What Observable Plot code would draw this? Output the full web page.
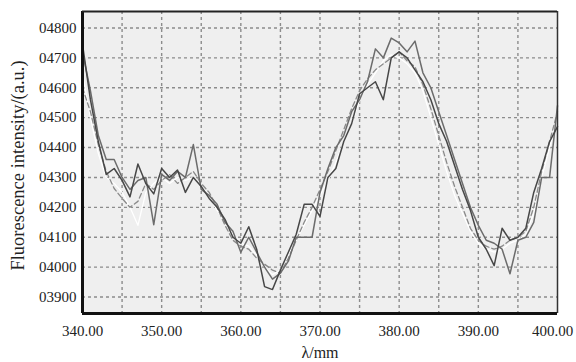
<!DOCTYPE html>
<html>
<head>
<meta charset="utf-8">
<script src="https://cdn.jsdelivr.net/npm/d3@7"></script>
<script src="https://cdn.jsdelivr.net/npm/@observablehq/plot@0.6"></script>
<style>
  html, body { margin: 0; padding: 0; background: #fff; }
  #chart { width: 576px; height: 362px; }
</style>
</head>
<body>
<div id="chart"></div>
<script>
const wavelength = [340,341,342,343,344,345,346,347,348,349,350,351,352,353,354,355,356,357,358,359,360,361,362,363,364,365,366,367,368,369,370,371,372,373,374,375,376,377,378,379,380,381,382,383,384,385,386,387,388,389,390,391,392,393,394,395,396,397,398,399,400];

const seriesDark = [4745,4560,4420,4310,4330,4290,4235,4345,4280,4245,4330,4300,4325,4250,4300,4270,4230,4200,4160,4100,4080,4135,4060,3935,3925,3990,4050,4110,4210,4210,4170,4300,4330,4420,4480,4580,4600,4620,4560,4700,4720,4700,4660,4620,4560,4480,4420,4340,4260,4190,4100,4060,4005,4130,4090,4100,4130,4250,4330,4420,4470];

const seriesMid = [4720,4590,4440,4360,4360,4300,4260,4290,4300,4142,4310,4290,4320,4300,4410,4260,4240,4210,4150,4120,4050,4100,4050,4000,3960,3980,4020,4100,4100,4100,4250,4330,4400,4440,4520,4560,4620,4730,4700,4766,4750,4720,4756,4650,4600,4520,4440,4360,4280,4200,4140,4090,4080,4060,3978,4090,4100,4150,4300,4300,4540];

const seriesDashed = [4600,4520,4410,4320,4263,4230,4200,4220,4280,4260,4290,4310,4280,4300,4320,4280,4250,4200,4140,4090,4070,4060,4030,4010,3990,3980,4030,4090,4150,4200,4260,4320,4390,4460,4530,4590,4630,4660,4680,4700,4720,4690,4670,4610,4530,4440,4350,4270,4200,4130,4090,4070,4060,4070,4090,4100,4120,4200,4320,4420,4520];

const seriesWhite = [4650,4500,4380,4300,4280,4250,4200,4140,4250,4280,4300,4280,4300,4290,4300,4270,4240,4190,4150,4110,4080,4070,4040,4000,3975,3990,4040,4090,4140,4190,4240,4290,4350,4420,4480,4560,4610,4650,4690,4710,4700,4680,4650,4590,4500,4410,4320,4240,4180,4120,4080,4060,4050,4060,4080,4090,4110,4180,4300,4400,4500];

const xTicks = [340,350,360,370,380,390];
const xTickLast = [400];
const xGrid = [345,350,355,360,365,370,375,380,385,390,395];
const yTicks = [3900,4000,4100,4200,4300,4400,4500,4600,4700,4800];

const xLabel = "λ/mm";
const yLabel = "Fluorescence intensity/(a.u.)";

function toRows(vals) { return wavelength.map((w, i) => ({x: w, y: vals[i]})); }

const chart = Plot.plot({
  width: 576,
  height: 362,
  marginLeft: 82,
  marginRight: 19,
  marginTop: 11,
  marginBottom: 49,
  style: {fontFamily: "'Liberation Serif', 'DejaVu Serif', serif", fontSize: "15px", color: "#222", background: "#fff"},
  x: {domain: [340, 400]},
  y: {domain: [3845, 4855]},
  marks: [
    Plot.frame({fill: "#efefef", stroke: null}),
    Plot.gridX(xGrid, {stroke: "#8c8c8c", strokeOpacity: 1, strokeWidth: 1.4, strokeDasharray: "3,3"}),
    Plot.gridY(yTicks, {stroke: "#8c8c8c", strokeOpacity: 1, strokeWidth: 1.4, strokeDasharray: "3,3"}),
    Plot.line(toRows(seriesWhite), {x: "x", y: "y", stroke: "#ffffff", strokeWidth: 1.3}),
    Plot.line(toRows(seriesDashed), {x: "x", y: "y", stroke: "#8a8a8a", strokeWidth: 1.3, strokeDasharray: "5,3"}),
    Plot.line(toRows(seriesMid), {x: "x", y: "y", stroke: "#6c6c6c", strokeWidth: 1.5}),
    Plot.line(toRows(seriesDark), {x: "x", y: "y", stroke: "#474747", strokeWidth: 1.5}),
    Plot.ruleX([340], {stroke: "#111", strokeWidth: 3}),
    Plot.ruleX([400], {stroke: "#333", strokeWidth: 1.5}),
    Plot.ruleY([3845], {stroke: "#111", strokeWidth: 3}),
    Plot.ruleY([4855], {stroke: "#222", strokeWidth: 2}),
    Plot.axisX(xTicks, {tickSize: 0, tickPadding: 12, tickFormat: d => d.toFixed(2), fontSize: 15, label: null}),
    Plot.axisX(xTickLast, {tickSize: 0, tickPadding: 12, dx: -5, tickFormat: d => d.toFixed(2), fontSize: 15, label: null}),
    Plot.axisY(yTicks, {tickSize: 0, tickPadding: 6, tickFormat: d => "0" + d, fontSize: 15, label: null}),
    Plot.text([xLabel], {frameAnchor: "bottom", dy: 44, fontSize: 16, text: d => d}),
    Plot.text([yLabel], {frameAnchor: "left", textAnchor: "middle", dx: -64, dy: 3, rotate: -90, fontSize: 18.5, text: d => d})
  ]
});
document.getElementById("chart").appendChild(chart);
</script>
</body>
</html>
